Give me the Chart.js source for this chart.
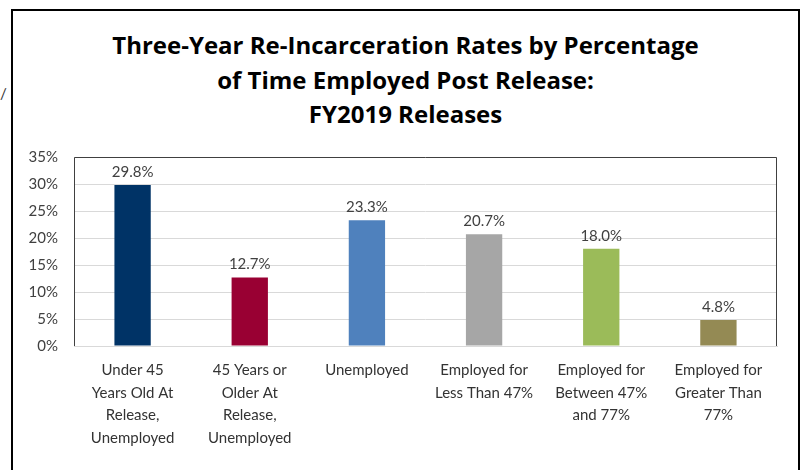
<!DOCTYPE html>
<html>
<head>
<meta charset="utf-8">
<script src="https://cdn.jsdelivr.net/npm/chart.js@4.4.0/dist/chart.umd.min.js"></script>
<style>
  body { margin: 0; background: #fff; }
  #wrap { position: relative; width: 801px; height: 470px; overflow: hidden; background: #fff; }
  #frame { position: absolute; left: 11px; top: 9px; width: 785px; height: 480px; border: 2px solid #000; }
  #slash { position: absolute; left: 0px; top: 84px; font: 15px Lato, sans-serif; color: #333; }
  #titulo { position: absolute; left: 13px; width: 785px; top: 28px; text-align: center;
            font: bold 24px/34.5px 'Open Sans', sans-serif; color: #000; }
  canvas { position: absolute; left: 0; top: 0; }
</style>
</head>
<body>
<div id="wrap">
  <div id="frame"></div>
  <div id="slash">/</div>
  <div id="titulo"></div>
  <canvas id="grafico" width="801" height="470"></canvas>
</div>
<script>
const categorias = [
  ["Under 45", "Years Old At", "Release,", "Unemployed"],
  ["45 Years or", "Older At", "Release,", "Unemployed"],
  ["Unemployed"],
  ["Employed for", "Less Than 47%"],
  ["Employed for", "Between 47%", "and 77%"],
  ["Employed for", "Greater Than", "77%"]
];
const taxas = [29.8, 12.7, 23.3, 20.7, 18.0, 4.8];
const cores = ["#003366", "#990033", "#4F81BD", "#A6A6A6", "#9BBB59", "#948A54"];
const titulo = [
  "Three-Year Re-Incarceration Rates by Percentage",
  "of Time Employed Post Release:",
  "FY2019 Releases"
];

const corTexto = "#404040";

// titulo centrado na moldura
document.getElementById("titulo").innerHTML = titulo.join("<br>");

// borda da area do grafico (esquerda, topo, direita)
const bordaArea = {
  id: "bordaArea",
  beforeDatasetsDraw(chart) {
    const { ctx, chartArea } = chart;
    ctx.save();
    ctx.strokeStyle = "#404040";
    ctx.lineWidth = 1;
    ctx.beginPath();
    ctx.moveTo(chartArea.left + 0.5, chartArea.bottom);
    ctx.lineTo(chartArea.left + 0.5, chartArea.top + 0.5);
    ctx.lineTo(chartArea.right - 0.5, chartArea.top + 0.5);
    ctx.lineTo(chartArea.right - 0.5, chartArea.bottom);
    ctx.stroke();
    ctx.restore();
  }
};

// rotulos de valor acima das barras
const rotulos = {
  id: "rotulos",
  afterDatasetsDraw(chart) {
    const { ctx } = chart;
    const meta = chart.getDatasetMeta(0);
    ctx.save();
    ctx.font = "15px Lato, sans-serif";
    ctx.fillStyle = corTexto;
    ctx.textAlign = "center";
    ctx.textBaseline = "middle";
    meta.data.forEach((bar, i) => {
      ctx.fillText(taxas[i].toFixed(1) + "%", bar.x, bar.y - 13);
    });
    ctx.restore();
  }
};

new Chart(document.getElementById("grafico"), {
  type: "bar",
  data: {
    labels: categorias,
    datasets: [
      {
        data: taxas,
        backgroundColor: cores,
        borderWidth: 0,
        barPercentage: 0.31,
        categoryPercentage: 1
      }
    ]
  },
  options: {
    responsive: false,
    animation: false,
    devicePixelRatio: 1,
    layout: { padding: { top: 157, left: 0, right: 24, bottom: 0 } },
    plugins: {
      legend: { display: false },
      tooltip: { enabled: false },
      title: { display: false }
    },
    scales: {
      x: {
        grid: { display: false, drawTicks: false },
        border: { display: true, color: "#D9D9D9" },
        ticks: {
          color: "#333",
          font: { family: "Lato", size: 15, lineHeight: 1.5 },
          padding: 13,
          autoSkip: false,
          maxRotation: 0
        },
        afterFit(scale) { scale.height = 124; }
      },
      y: {
        min: 0,
        max: 35,
        grid: { color: "#D9D9D9", drawTicks: false },
        border: { display: false },
        ticks: {
          stepSize: 5,
          color: corTexto,
          font: { family: "Lato", size: 15 },
          padding: 16,
          callback: (v) => v + "%"
        },
        afterFit(scale) { scale.width = 74; }
      }
    }
  },
  plugins: [bordaArea, rotulos]
});
</script>
</body>
</html>
